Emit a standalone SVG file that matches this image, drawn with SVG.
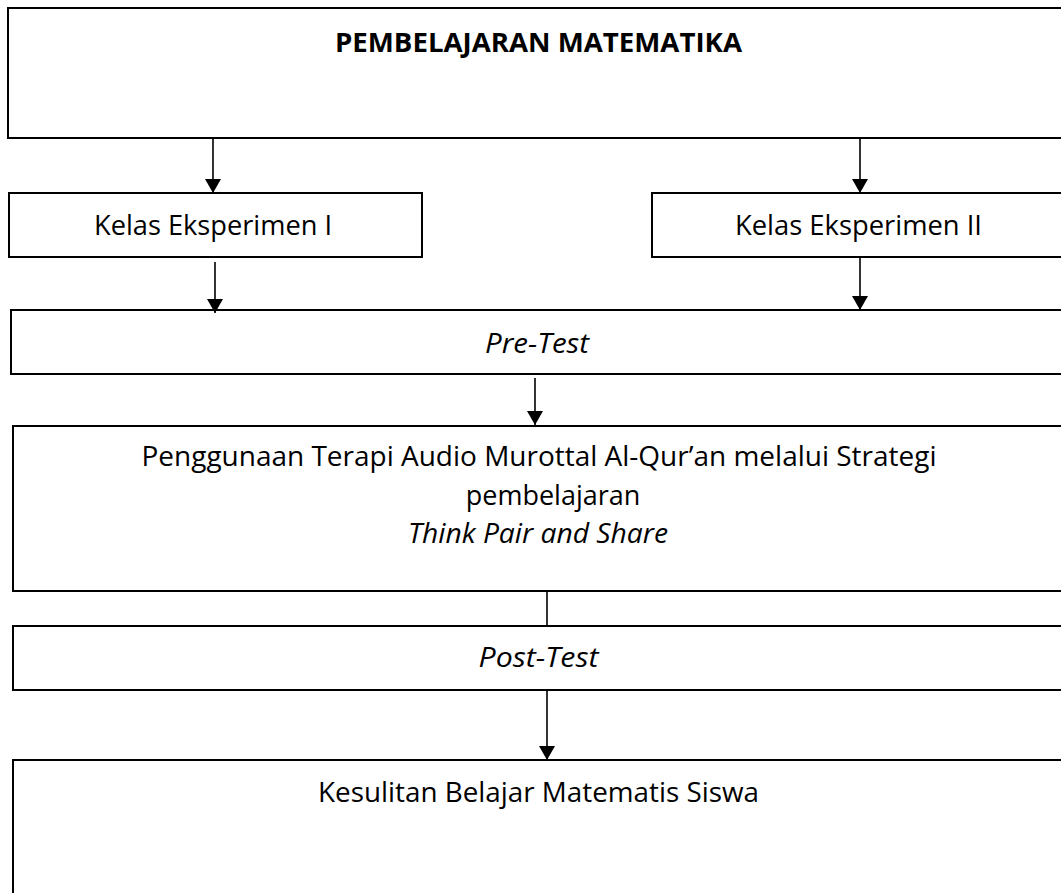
<svg xmlns="http://www.w3.org/2000/svg" width="1061" height="893" viewBox="0 0 1061 893">
<style>
.box{fill:#fff;stroke:#000;stroke-width:2}
.t{font-family:"Open Sans","Noto Sans","Liberation Sans",sans-serif;font-size:27px;fill:#000;text-anchor:middle}
.b{font-weight:bold}
.i{font-style:italic}
.c{stroke:#000;stroke-width:1.6;fill:none}
</style>
<defs>
<marker id="ah" viewBox="0 0 14 16" refX="14" refY="8" markerWidth="14" markerHeight="16" markerUnits="userSpaceOnUse" orient="auto">
<path d="M0,0 L14,8 L0,16 Z" fill="#000"/>
</marker>
</defs>
<rect width="1061" height="893" fill="#fff"/>
<g id="n-title"><rect class="box" x="8" y="8" width="1062" height="130"/><text class="t b" x="538.5" y="52" textLength="407" lengthAdjust="spacingAndGlyphs">PEMBELAJARAN MATEMATIKA</text></g>
<g id="n-kelas1"><rect class="box" x="9" y="193" width="413" height="64"/><text class="t" x="213" y="235" textLength="238" lengthAdjust="spacingAndGlyphs">Kelas Eksperimen I</text></g>
<g id="n-kelas2"><rect class="box" x="652" y="193" width="418" height="64"/><text class="t" x="858.5" y="235" textLength="247" lengthAdjust="spacingAndGlyphs">Kelas Eksperimen II</text></g>
<g id="n-pretest"><rect class="box" x="11" y="310" width="1059" height="64"/><text class="t i" x="537" y="353" textLength="104" lengthAdjust="spacingAndGlyphs">Pre-Test</text></g>
<g id="n-terapi"><rect class="box" x="13" y="426" width="1057" height="165"/>
<text class="t" x="539" y="466" textLength="795" lengthAdjust="spacingAndGlyphs">Penggunaan Terapi Audio Murottal Al-Qur’an melalui Strategi</text>
<text class="t" x="553" y="505">pembelajaran</text>
<text class="t i" x="538" y="543" textLength="260" lengthAdjust="spacingAndGlyphs">Think Pair and Share</text></g>
<g id="n-posttest"><rect class="box" x="13" y="626" width="1057" height="64"/><text class="t i" x="538.5" y="667" textLength="120" lengthAdjust="spacingAndGlyphs">Post-Test</text></g>
<g id="n-hasil"><rect class="box" x="13" y="760" width="1057" height="150"/><text class="t" x="538.5" y="802" textLength="441" lengthAdjust="spacingAndGlyphs">Kesulitan Belajar Matematis Siswa</text></g>
<g id="connectors">
<line class="c" x1="213" y1="139" x2="213" y2="193" marker-end="url(#ah)"/>
<line class="c" x1="860" y1="139" x2="860" y2="193" marker-end="url(#ah)"/>
<line class="c" x1="215" y1="262" x2="215" y2="313" marker-end="url(#ah)"/>
<line class="c" x1="860" y1="258" x2="860" y2="310" marker-end="url(#ah)"/>
<line class="c" x1="535" y1="378" x2="535" y2="425" marker-end="url(#ah)"/>
<line class="c" x1="547" y1="591" x2="547" y2="626"/>
<line class="c" x1="547" y1="690" x2="547" y2="760" marker-end="url(#ah)"/>
</g>
</svg>
